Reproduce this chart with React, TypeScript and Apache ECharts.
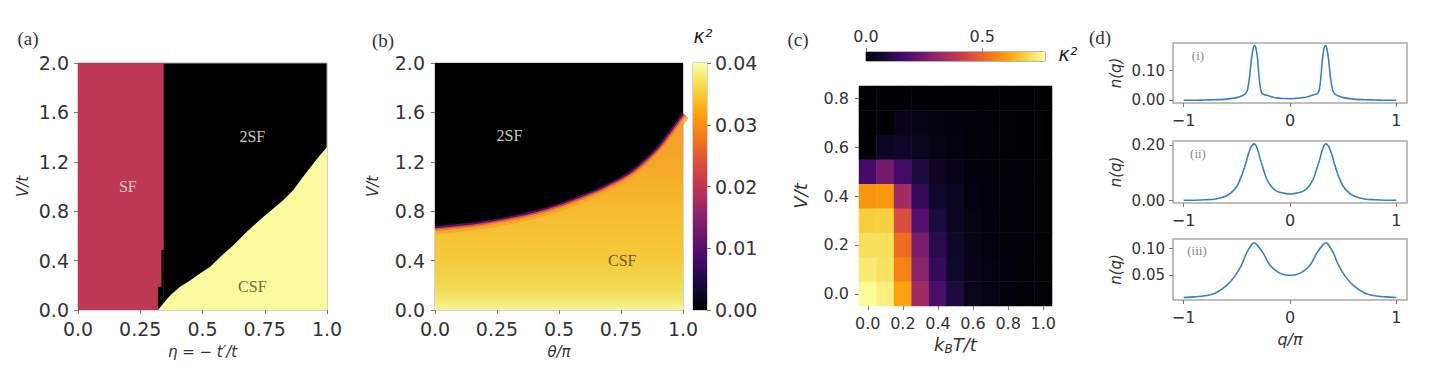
import React, { useEffect, useRef } from 'react';
import * as echarts from 'echarts';

// ---------- (a) phase diagram eta vs V/t ----------
const A_SF_TOP = [[0, 2.0], [0.344, 2.0]];
const A_NOTCH = [[0.321, 0.189], [0.335, 0.486], [0.344, 0.486]];
const A_ETA = [0.321, 0.35, 0.371, 0.411, 0.444, 0.491, 0.531, 0.572, 0.625, 0.679, 0.746, 0.786, 0.826, 0.866, 0.9, 0.946, 0.973, 1.0];
const A_VC = [0.0, 0.07, 0.12, 0.19, 0.23, 0.297, 0.351, 0.432, 0.527, 0.635, 0.757, 0.824, 0.892, 0.973, 1.068, 1.189, 1.257, 1.32];
const A_LABELS = [
  { name: 'SF', x: 0.2, y: 1.0, color: '#f3e3e6' },
  { name: '2SF', x: 0.7, y: 1.405, color: '#ffffff' },
  { name: 'CSF', x: 0.7, y: 0.19, color: '#4a4622' },
];

// ---------- (b) theta vs V/t ----------
const B_THETA = [0, 0.1, 0.2, 0.3, 0.4, 0.5, 0.6, 0.65, 0.7, 0.75, 0.8, 0.85, 0.9, 0.95, 1.0];
const B_VC = [0.67, 0.69, 0.715, 0.75, 0.795, 0.855, 0.93, 0.97, 1.02, 1.07, 1.135, 1.22, 1.32, 1.45, 1.59];
const B_LABELS = [
  { name: '2SF', x: 0.3, y: 1.41, color: '#ffffff' },
  { name: 'CSF', x: 0.755, y: 0.4, color: '#3d3a1a' },
];
const B_CB_MAX = 0.04;

// ---------- (c) heatmap kBT/t vs V/t ----------
const C_T = ['0.0', '0.1', '0.2', '0.3', '0.4', '0.5', '0.6', '0.7', '0.8', '0.9', '1.0'];
const C_V = ['0.0', '0.1', '0.2', '0.3', '0.4', '0.5', '0.6', '0.7', '0.8'];
const C_K_V00 = [0.76, 0.74, 0.61, 0.33, 0.17, 0.085, 0.035, 0.02, 0.012, 0.006, 0.003];
const C_K_V01 = [0.73, 0.715, 0.56, 0.29, 0.13, 0.06, 0.03, 0.018, 0.01, 0.005, 0.003];
const C_K_V02 = [0.71, 0.71, 0.52, 0.26, 0.11, 0.055, 0.025, 0.015, 0.008, 0.004, 0.002];
const C_K_V03 = [0.68, 0.685, 0.45, 0.19, 0.085, 0.045, 0.02, 0.012, 0.006, 0.003, 0.002];
const C_K_V04 = [0.59, 0.595, 0.33, 0.13, 0.06, 0.04, 0.015, 0.008, 0.005, 0.002, 0.001];
const C_K_V05 = [0.16, 0.25, 0.16, 0.085, 0.045, 0.03, 0.012, 0.006, 0.003, 0.001, 0.001];
const C_K_V06 = [0.0, 0.045, 0.05, 0.04, 0.02, 0.015, 0.006, 0.003, 0.001, 0.0, 0.0];
const C_K_V07 = [0.0, 0.0, 0.03, 0.02, 0.015, 0.01, 0.004, 0.002, 0.001, 0.0, 0.0];
const C_K_V08 = [0.0, 0.0, 0.0, 0.0, 0.0, 0.0, 0.0, 0.0, 0.0, 0.0, 0.0];
const C_ROWS = [C_K_V00, C_K_V01, C_K_V02, C_K_V03, C_K_V04, C_K_V05, C_K_V06, C_K_V07, C_K_V08];
const C_CB_MAX = 0.77;
const C_CB_TICKS = [0, 0.5];

// ---------- (d) momentum distributions ----------
const D1_Q = [-1, -0.9, -0.8, -0.7, -0.6, -0.5, -0.45, -0.42, -0.4, -0.38, -0.36, -0.345, -0.333, -0.32, -0.305, -0.29, -0.275, -0.26, -0.24, -0.2, -0.16, -0.12, -0.08, -0.04, 0, 0.04, 0.08, 0.12, 0.16, 0.2, 0.24, 0.26, 0.275, 0.29, 0.305, 0.32, 0.333, 0.345, 0.36, 0.38, 0.4, 0.42, 0.45, 0.5, 0.6, 0.7, 0.8, 0.9, 1];
const D1_N = [0.0, 0.0, 0.001, 0.002, 0.004, 0.009, 0.015, 0.022, 0.035, 0.08, 0.145, 0.176, 0.184, 0.175, 0.14, 0.075, 0.035, 0.022, 0.019, 0.015, 0.01, 0.008, 0.006, 0.006, 0.005, 0.006, 0.007, 0.009, 0.011, 0.016, 0.02, 0.023, 0.035, 0.075, 0.14, 0.175, 0.184, 0.176, 0.145, 0.08, 0.035, 0.022, 0.015, 0.009, 0.004, 0.002, 0.001, 0.0, 0.0];
const D2_Q = [-1, -0.9, -0.8, -0.7, -0.6, -0.55, -0.5, -0.46, -0.42, -0.39, -0.36, -0.335, -0.31, -0.28, -0.25, -0.22, -0.18, -0.14, -0.1, -0.05, 0, 0.05, 0.1, 0.14, 0.18, 0.22, 0.25, 0.28, 0.31, 0.335, 0.36, 0.39, 0.42, 0.46, 0.5, 0.55, 0.6, 0.7, 0.8, 0.9, 1];
const D2_N = [0.001, 0.0015, 0.003, 0.006, 0.017, 0.03, 0.052, 0.085, 0.13, 0.17, 0.198, 0.205, 0.19, 0.15, 0.113, 0.079, 0.053, 0.038, 0.03, 0.026, 0.024, 0.026, 0.03, 0.038, 0.053, 0.079, 0.113, 0.15, 0.19, 0.205, 0.198, 0.17, 0.13, 0.085, 0.052, 0.03, 0.017, 0.006, 0.003, 0.0015, 0.001];
const D3_Q = [-1, -0.9, -0.8, -0.7, -0.6, -0.52, -0.455, -0.41, -0.37, -0.34, -0.31, -0.25, -0.19, -0.11, -0.05, 0, 0.05, 0.11, 0.19, 0.25, 0.31, 0.34, 0.37, 0.41, 0.455, 0.52, 0.6, 0.7, 0.8, 0.9, 1];
const D3_N = [0.0085, 0.0095, 0.0115, 0.017, 0.03, 0.048, 0.0695, 0.091, 0.105, 0.111, 0.107, 0.091, 0.0695, 0.0555, 0.051, 0.05, 0.051, 0.0555, 0.0695, 0.091, 0.107, 0.111, 0.105, 0.091, 0.0695, 0.048, 0.03, 0.017, 0.0115, 0.0095, 0.0085];
const D_XTICKS = [-1, 0, 1];
const D1_YTICKS = [0, 0.1];
const D2_YTICKS = [0, 0.2];
const D3_YTICKS = [0.05, 0.1];

const INFERNO = ['#000004', '#160b39', '#420a68', '#6a176e', '#932667', '#bc3754', '#dd513a', '#f37819', '#fca50a', '#f6d746', '#fcffa4'];

const FONT = 'DejaVu Sans';
const SERIF = 'Liberation Serif';
const TXT = '#333';
const TICK_COLOR = '#777';
const SPINE = '#a8a8a8';
const NO_LINE = { show: false, onZero: false };

function tick(extra: any = {}) {
  return { show: true, length: 4, lineStyle: { color: TICK_COLOR, width: 1 }, ...extra };
}
function lab(fs: number, margin: number, formatter: any, extra: any = {}) {
  return { fontFamily: FONT, color: TXT, fontSize: fs, margin, formatter, ...extra };
}
function nameStyle(fs: number) {
  return { fontFamily: FONT, fontStyle: 'italic', color: TXT, fontSize: fs };
}
const fmt1 = (v: number) => v.toFixed(1);
const fmt2 = (v: number) => v.toFixed(2);
const fmtEta = (v: number) => (v === 0 ? '0.0' : v === 1 ? '1.0' : String(v));
const fmtQ = (v: number) => (v < 0 ? '\u2212' + Math.abs(v) : String(v));

function pairs(xs: number[], ys: number[]) {
  return xs.map((x, i) => [x, ys[i]]);
}

function buildOption() {
  const infernoStops = INFERNO.map((c, i) => ({ offset: i / (INFERNO.length - 1), color: c }));
  const labelScatter = (gi: number, items: any[]) => ({
    type: 'scatter',
    xAxisIndex: gi,
    yAxisIndex: gi,
    symbolSize: 1,
    itemStyle: { color: 'transparent' },
    silent: true,
    z: 10,
    data: items.map((l) => ({
      name: l.name,
      value: [l.x, l.y],
      label: {
        show: true,
        position: 'inside',
        formatter: '{b}',
        fontFamily: SERIF,
        fontSize: 16,
        color: l.color,
      },
    })),
  });

  const heatData: number[][] = [];
  C_ROWS.forEach((row, r) => row.forEach((v, c) => heatData.push([c, r, v])));

  const bBoundary = pairs(B_THETA, B_VC);

  const series: any[] = [
    // (a)
    {
      type: 'line', xAxisIndex: 0, yAxisIndex: 0, data: A_SF_TOP, symbol: 'none', z: 2,
      lineStyle: { width: 0 }, areaStyle: { color: '#bd3853', opacity: 1 }, silent: true,
    },
    {
      type: 'line', step: 'end', xAxisIndex: 0, yAxisIndex: 0, data: A_NOTCH, symbol: 'none', z: 3,
      lineStyle: { width: 0 }, areaStyle: { color: '#000', opacity: 1 }, silent: true,
    },
    {
      type: 'line', xAxisIndex: 0, yAxisIndex: 0, data: pairs(A_ETA, A_VC), symbol: 'none', z: 4,
      lineStyle: { width: 0 }, areaStyle: { color: '#f9f99d', opacity: 1 }, silent: true,
    },
    labelScatter(0, A_LABELS),
    // (b)
    {
      type: 'line', xAxisIndex: 1, yAxisIndex: 1, data: bBoundary, symbol: 'none', smooth: 0.3, z: 2,
      lineStyle: { width: 0 },
      areaStyle: {
        opacity: 1,
        origin: 'start',
        color: new echarts.graphic.LinearGradient(0, 0, 0, 1, [
          { offset: 0, color: '#f39b26' },
          { offset: 0.3, color: '#f5ab2a' },
          { offset: 0.5, color: '#f6bb30' },
          { offset: 0.62, color: '#f6c233' },
          { offset: 0.75, color: '#f4cb3a' },
          { offset: 0.87, color: '#f2d950' },
          { offset: 0.94, color: '#f3e46a' },
          { offset: 1, color: '#f8f59c' },
        ]),
      },
      silent: true,
    },
    {
      type: 'line', xAxisIndex: 1, yAxisIndex: 1, data: bBoundary, symbol: 'none', smooth: 0.3, z: 3,
      lineStyle: { width: 14, color: '#f6a42c', opacity: 0.8 }, silent: true,
    },
    {
      type: 'line', xAxisIndex: 1, yAxisIndex: 1, data: bBoundary, symbol: 'none', smooth: 0.3, z: 4,
      lineStyle: { width: 8, color: '#f08a26' }, silent: true,
    },
    {
      type: 'line', xAxisIndex: 1, yAxisIndex: 1, data: bBoundary, symbol: 'none', smooth: 0.3, z: 5,
      lineStyle: { width: 5, color: '#d9503e' }, silent: true,
    },
    {
      type: 'line', xAxisIndex: 1, yAxisIndex: 1, data: bBoundary, symbol: 'none', smooth: 0.3, z: 6,
      lineStyle: { width: 0 },
      areaStyle: { color: '#000', opacity: 1, origin: 'end' }, silent: true,
    },
    {
      type: 'line', xAxisIndex: 1, yAxisIndex: 1, data: bBoundary, symbol: 'none', smooth: 0.3, z: 7,
      lineStyle: { width: 2, color: '#55106e' }, silent: true,
    },
    labelScatter(1, B_LABELS),
    // (b) colorbar
    {
      type: 'bar', xAxisIndex: 2, yAxisIndex: 2, data: [B_CB_MAX], barWidth: '100%', silent: true,
      itemStyle: { color: new echarts.graphic.LinearGradient(0, 1, 0, 0, infernoStops) },
    },
    // (c) heatmap
    {
      type: 'heatmap', xAxisIndex: 3, yAxisIndex: 3, data: heatData, silent: true,
      emphasis: { disabled: true }, progressive: 0,
    },
    // (c) colorbar
    {
      type: 'bar', xAxisIndex: 4, yAxisIndex: 4, data: [C_CB_MAX], barWidth: '100%', silent: true,
      itemStyle: { color: new echarts.graphic.LinearGradient(0, 0, 1, 0, infernoStops) },
    },
    // (d)
    ...[pairs(D1_Q, D1_N), pairs(D2_Q, D2_N), pairs(D3_Q, D3_N)].map((d, i) => ({
      type: 'line', xAxisIndex: 5 + i, yAxisIndex: 5 + i, data: d, symbol: 'none', smooth: 0.3,
      lineStyle: { width: 1.6, color: '#3a7fc0' }, silent: true,
    })),
  ];
  const heatIndex = series.findIndex((s) => s.type === 'heatmap');

  const dGrid = (top: number, height: number) => ({
    left: 1173, top, width: 234, height, show: true, borderColor: SPINE, borderWidth: 1.5,
  });

  const dX = (gi: number, withName: boolean) => ({
    gridIndex: gi, type: 'value', min: -1.1, max: 1.1,
    splitLine: { show: false }, axisLine: NO_LINE,
    axisTick: tick({ customValues: D_XTICKS }),
    axisLabel: lab(16, 9, fmtQ, { customValues: D_XTICKS }),
    name: withName ? 'q/\u03c0' : '', nameLocation: 'middle', nameGap: 31, nameTextStyle: nameStyle(16),
  });
  const dY = (gi: number, min: number, max: number, ticks: number[]) => ({
    gridIndex: gi, type: 'value', min, max,
    splitLine: { show: false }, axisLine: NO_LINE,
    axisTick: tick({ customValues: ticks }),
    axisLabel: lab(15, 8, fmt2, { customValues: ticks }),
    name: 'n(q)', nameLocation: 'middle', nameGap: 50, nameRotate: 90, nameTextStyle: nameStyle(15),
  });

  return {
    animation: false,
    backgroundColor: '#fff',
    textStyle: { fontFamily: FONT },
    grid: [
      { left: 78, top: 63, width: 249, height: 247, show: true, backgroundColor: '#000', borderColor: SPINE, borderWidth: 1 },
      { left: 435, top: 63, width: 248, height: 247, show: true, backgroundColor: '#000', borderColor: SPINE, borderWidth: 1 },
      { left: 693, top: 63, width: 14, height: 247, show: true, borderColor: SPINE, borderWidth: 1 },
      { left: 859, top: 86, width: 193, height: 220 },
      { left: 866, top: 52, width: 179, height: 9, show: true, borderColor: '#666', borderWidth: 1 },
      dGrid(43, 60),
      dGrid(141, 62),
      dGrid(239, 61),
    ],
    xAxis: [
      {
        gridIndex: 0, type: 'value', min: 0, max: 1, interval: 0.25,
        splitLine: { show: false }, axisLine: NO_LINE, axisTick: tick(),
        axisLabel: lab(19, 9, fmtEta),
        name: '\u03b7 = \u2212 t\u2032/t', nameLocation: 'middle', nameGap: 34, nameTextStyle: nameStyle(15),
      },
      {
        gridIndex: 1, type: 'value', min: 0, max: 1, interval: 0.25,
        splitLine: { show: false }, axisLine: NO_LINE, axisTick: tick(),
        axisLabel: lab(19, 9, fmtEta),
        name: '\u03b8/\u03c0', nameLocation: 'middle', nameGap: 34, nameTextStyle: nameStyle(15),
      },
      { gridIndex: 2, type: 'category', data: ['cb'], show: false, axisLine: NO_LINE },
      {
        gridIndex: 3, type: 'category', data: C_T,
        splitLine: { show: false }, axisLine: NO_LINE,
        axisTick: tick({ interval: 1, alignWithLabel: true }),
        axisLabel: lab(16, 9, undefined, { interval: 1 }),
        name: '{i|k}{s|B}{i|T/t}', nameLocation: 'middle', nameGap: 27,
        nameTextStyle: {
          fontFamily: FONT, color: TXT,
          rich: {
            i: { fontFamily: FONT, fontStyle: 'italic', fontSize: 18, color: TXT },
            s: { fontFamily: FONT, fontStyle: 'italic', fontSize: 12, color: TXT, verticalAlign: 'bottom', padding: [8, 0, 0, 0] },
          },
        },
      },
      {
        gridIndex: 4, type: 'value', min: 0, max: C_CB_MAX, position: 'top',
        splitLine: { show: false }, axisLine: NO_LINE,
        axisTick: tick({ customValues: C_CB_TICKS }),
        axisLabel: lab(16, 8, fmt1, { customValues: C_CB_TICKS }),
      },
      dX(5, false),
      dX(6, false),
      dX(7, true),
    ],
    yAxis: [
      {
        gridIndex: 0, type: 'value', min: 0, max: 2, interval: 0.4,
        splitLine: { show: false }, axisLine: NO_LINE, axisTick: tick(),
        axisLabel: lab(19, 9, fmt1),
        name: 'V/t', nameLocation: 'middle', nameGap: 48, nameRotate: 90, nameTextStyle: nameStyle(15),
      },
      {
        gridIndex: 1, type: 'value', min: 0, max: 2, interval: 0.4,
        splitLine: { show: false }, axisLine: NO_LINE, axisTick: tick(),
        axisLabel: lab(19, 10, fmt1),
        name: 'V/t', nameLocation: 'middle', nameGap: 55, nameRotate: 90, nameTextStyle: nameStyle(15),
      },
      {
        gridIndex: 2, type: 'value', min: 0, max: B_CB_MAX, interval: 0.01, position: 'right',
        splitLine: { show: false }, axisLine: NO_LINE, axisTick: tick(),
        axisLabel: lab(19, 8, fmt2),
      },
      {
        gridIndex: 3, type: 'category', data: C_V,
        splitLine: { show: false }, axisLine: NO_LINE,
        axisTick: tick({ interval: 1, alignWithLabel: true }),
        axisLabel: lab(16, 10, undefined, { interval: 1 }),
        name: 'V/t', nameLocation: 'middle', nameGap: 50, nameRotate: 90, nameTextStyle: nameStyle(18),
      },
      { gridIndex: 4, type: 'category', data: ['cb'], show: false, axisLine: NO_LINE },
      dY(5, -0.0092, 0.193, D1_YTICKS),
      dY(6, -0.0087, 0.2155, D2_YTICKS),
      dY(7, 0.0037, 0.118, D3_YTICKS),
    ],
    visualMap: [
      {
        type: 'continuous', show: false, min: 0, max: C_CB_MAX, seriesIndex: heatIndex,
        inRange: { color: INFERNO },
      },
    ],
    graphic: [
      ...[
        { t: '(a)', x: 28, y: 38 },
        { t: '(b)', x: 383, y: 40 },
        { t: '(c)', x: 798, y: 39 },
        { t: '(d)', x: 1100, y: 37 },
      ].map((p) => ({
        type: 'text', x: p.x, y: p.y, silent: true,
        style: { text: p.t, fontFamily: SERIF, fontSize: 19, fill: '#333', align: 'center', verticalAlign: 'middle' },
      })),
      ...[
        { t: '(i)', x: 1198, y: 55 },
        { t: '(ii)', x: 1198, y: 153 },
        { t: '(iii)', x: 1197, y: 250 },
      ].map((p) => ({
        type: 'text', x: p.x, y: p.y, silent: true, z: 20,
        style: { text: p.t, fontFamily: SERIF, fontSize: 13, fill: '#888', align: 'center', verticalAlign: 'middle' },
      })),
      ...[
        { x: 703, y: 36 },
        { x: 1068, y: 54 },
      ].map((p) => ({
        type: 'text', x: p.x, y: p.y, silent: true,
        style: { text: '\u03ba\u00b2', fontFamily: FONT, fontStyle: 'italic', fontSize: 19, fill: '#222', align: 'center', verticalAlign: 'middle' },
      })),
    ],
    series,
  };
}

export default function App() {
  const ref = useRef<HTMLDivElement>(null);
  useEffect(() => {
    document.body.style.margin = '0';
    const chart = echarts.init(ref.current as HTMLDivElement, null, { renderer: 'svg' });
    chart.setOption(buildOption() as any);
    return () => chart.dispose();
  }, []);
  return <div ref={ref} style={{ width: 1441, height: 389 }} />;
}
